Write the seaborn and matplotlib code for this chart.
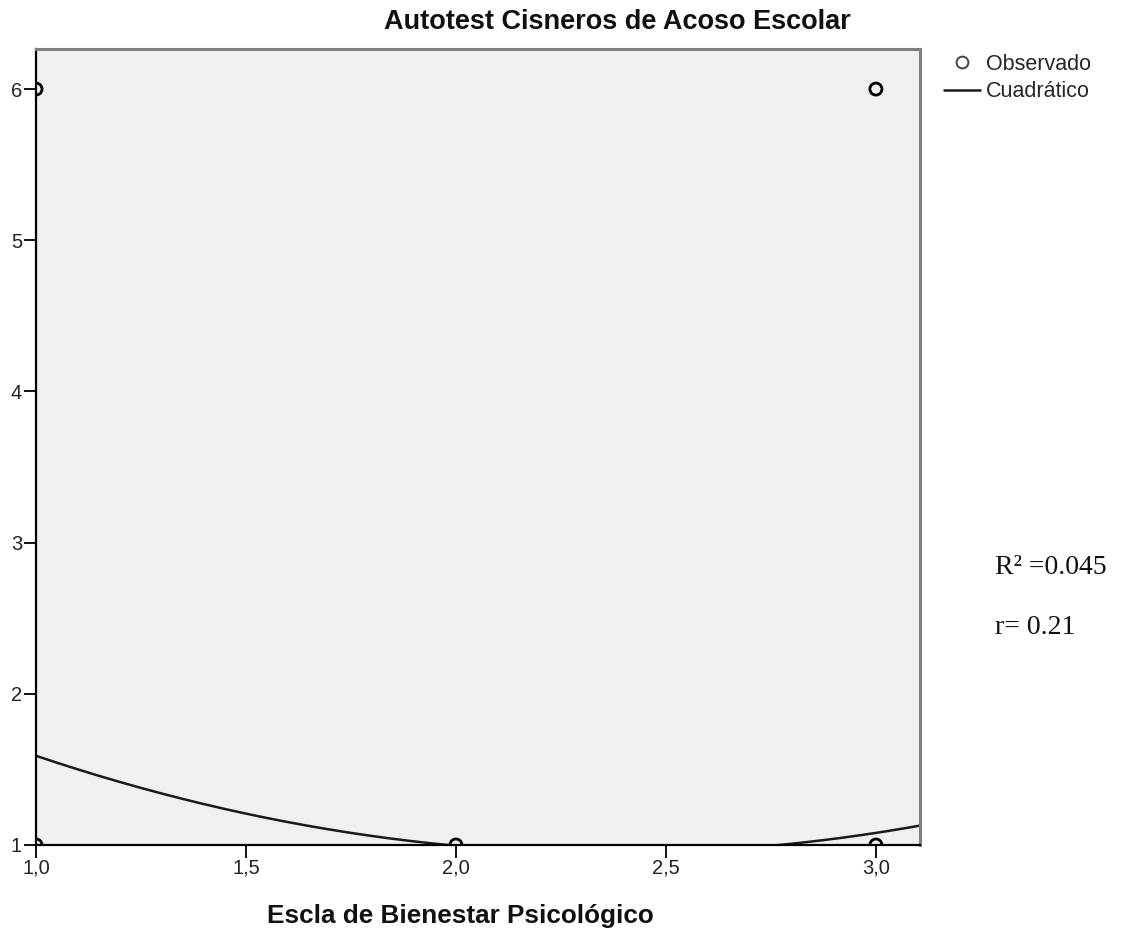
import numpy as np
import pandas as pd
import matplotlib
matplotlib.use("Agg")
import matplotlib.pyplot as plt
import seaborn as sns
from matplotlib.lines import Line2D
from matplotlib.ticker import FuncFormatter

obs_x = [1, 1, 2, 3, 3]
obs_y = [6, 1, 1, 6, 1]

# Quadratic model coefficients: y = b0 + b1*x + b2*x^2
b0, b1, b2 = 2.865, -1.615, 0.34

title = "Autotest Cisneros de Acoso Escolar"
xlabel = "Escla de Bienestar Psicológico"
legend_labels = ["Observado", "Cuadrático"]
x_ticks = [1.0, 1.5, 2.0, 2.5, 3.0]
y_ticks = [1, 2, 3, 4, 5, 6]
stats_lines = ["R² =0.045", "r= 0.21"]

sns.set_theme(style="white")
plt.rcParams['font.family'] = ['Liberation Sans', 'DejaVu Sans']

fig = plt.figure(figsize=(11.28, 9.39), dpi=100)
ax = fig.add_axes([36/1128, 1 - 845/939, (920 - 36)/1128, (845 - 49)/939])
ax.set_facecolor("#F0F0F0")

xs = np.linspace(1.0, 3.105, 300)
curve = pd.DataFrame({"x": xs, "y": b0 + b1 * xs + b2 * xs ** 2})
sns.lineplot(data=curve, x="x", y="y", ax=ax, color="#1a1a1a", linewidth=1.8)

obs = pd.DataFrame({"x": obs_x, "y": obs_y})
sns.scatterplot(data=obs, x="x", y="y", ax=ax, s=75, facecolor="none",
                edgecolor="black", linewidth=2.0, zorder=5, clip_on=True)

ax.set_xlim(1.0, 3.105)
ax.set_ylim(1.0, 6.265)
ax.set_xticks(x_ticks)
ax.set_yticks(y_ticks)
ax.xaxis.set_major_formatter(FuncFormatter(lambda v, p: f"{v:.1f}".replace(".", ",")))
ax.yaxis.set_major_formatter(FuncFormatter(lambda v, p: f"{int(round(v))}"))
ax.tick_params(axis="both", which="major", direction="out", length=9, width=1.3,
               color="black", labelsize=14.5, labelcolor="#222222", pad=1,
               bottom=True, left=True, top=False, right=False)
ax.set_xlabel("")
ax.set_ylabel("")

for side in ["left", "bottom"]:
    ax.spines[side].set_color("black")
    ax.spines[side].set_linewidth(1.6)
for side in ["top", "right"]:
    ax.spines[side].set_color("#808080")
    ax.spines[side].set_linewidth(2.2)

fig.text(851/1128, 1 - 22/939, title, ha="right", va="center", fontsize=19.5,
         fontweight="bold", color="#111111")
fig.text(460/1128, 1 - 916/939, xlabel, ha="center", va="center", fontsize=18.8,
         fontweight="bold", color="#111111")

handles = [
    Line2D([], [], marker="o", linestyle="none", markersize=8.5, markerfacecolor="none",
           markeredgecolor="#444444", markeredgewidth=1.4),
    Line2D([], [], color="#1a1a1a", linewidth=1.8),
]
fig.legend(handles, legend_labels, loc="upper left", bbox_to_anchor=(944/1128, 1 - 54/939),
           frameon=False, fontsize=15.5, handlelength=1.65, handletextpad=0.3,
           labelspacing=0.3, borderaxespad=0, borderpad=0)

fig.text(995/1128, 1 - 567/939, stats_lines[0], ha="left", va="center", fontsize=20,
         family=["Liberation Serif", "DejaVu Serif"], color="#111111")
fig.text(995/1128, 1 - 627/939, stats_lines[1], ha="left", va="center", fontsize=20,
         family=["Liberation Serif", "DejaVu Serif"], color="#111111")

fig.savefig("out.png", dpi=100)
